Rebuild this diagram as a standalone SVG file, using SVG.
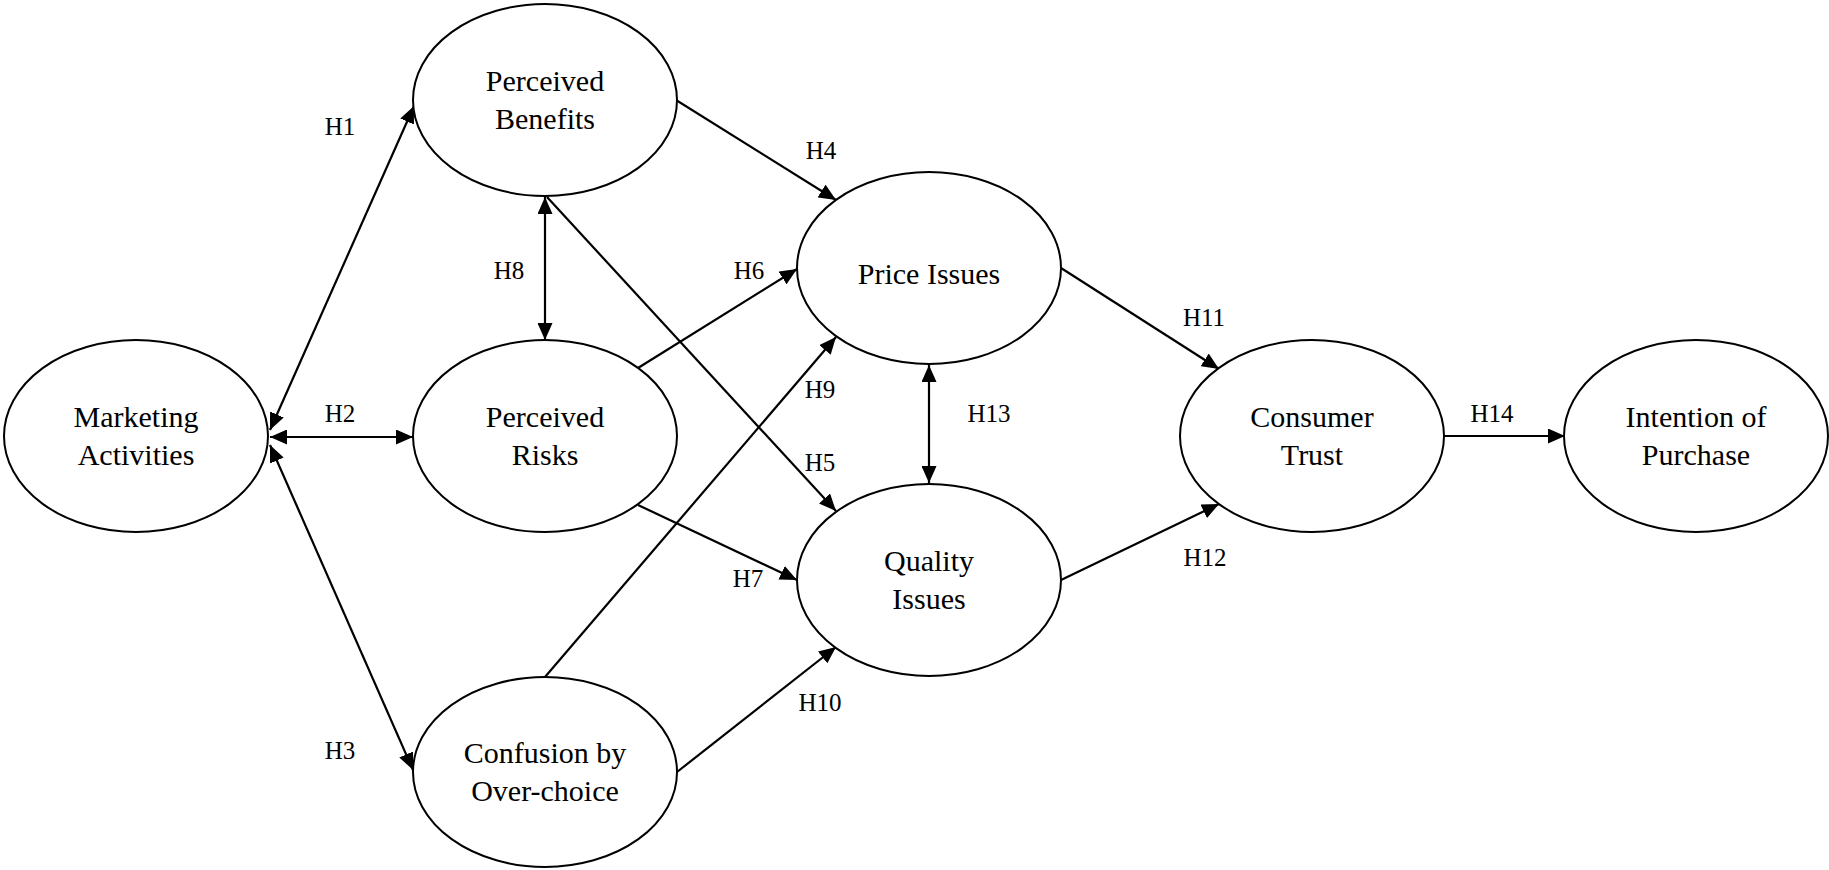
<svg xmlns="http://www.w3.org/2000/svg" width="1829" height="870" viewBox="0 0 1829 870">
<style>
.node ellipse{fill:#fff;stroke:#000;stroke-width:2}
.node text{font-family:'Liberation Serif','DejaVu Serif',serif;font-size:30px;fill:#000;text-anchor:middle}
#connectors line{stroke:#000;stroke-width:2.2;fill:none}
.lbl{font-family:'Liberation Serif','DejaVu Serif',serif;font-size:25px;fill:#000;text-anchor:middle}
</style>
<defs>
<marker id="ah" markerUnits="userSpaceOnUse" markerWidth="17" markerHeight="15" refX="17" refY="7.5" orient="auto-start-reverse" viewBox="0 0 17 15">
<path d="M0,0 L17,7.5 L0,15 z" fill="#000"/>
</marker>
</defs>
<rect width="1829" height="870" fill="#fff"/>
<g id="connectors">
<line x1="270" y1="430" x2="414" y2="106" marker-start="url(#ah)" marker-end="url(#ah)"/>
<line x1="270" y1="437" x2="413" y2="437" marker-start="url(#ah)" marker-end="url(#ah)"/>
<line x1="270" y1="445" x2="413" y2="770" marker-start="url(#ah)" marker-end="url(#ah)"/>
<line x1="545" y1="197" x2="545" y2="340" marker-start="url(#ah)" marker-end="url(#ah)"/>
<line x1="676" y1="100" x2="836" y2="200" marker-end="url(#ah)"/>
<line x1="547" y1="197" x2="836" y2="511" marker-end="url(#ah)"/>
<line x1="638" y1="368" x2="797" y2="269" marker-end="url(#ah)"/>
<line x1="638" y1="505" x2="797" y2="580" marker-end="url(#ah)"/>
<line x1="545" y1="677" x2="836" y2="337" marker-end="url(#ah)"/>
<line x1="677" y1="772" x2="836" y2="647" marker-end="url(#ah)"/>
<line x1="929" y1="365" x2="929" y2="483" marker-start="url(#ah)" marker-end="url(#ah)"/>
<line x1="1061" y1="268" x2="1219" y2="369" marker-end="url(#ah)"/>
<line x1="1061" y1="580" x2="1219" y2="504" marker-end="url(#ah)"/>
<line x1="1444" y1="436" x2="1565" y2="436" marker-end="url(#ah)"/>
</g>
<g id="labels">
<text class="lbl" x="340" y="135">H1</text>
<text class="lbl" x="340" y="422">H2</text>
<text class="lbl" x="340" y="759">H3</text>
<text class="lbl" x="821" y="159">H4</text>
<text class="lbl" x="820" y="471">H5</text>
<text class="lbl" x="749" y="279">H6</text>
<text class="lbl" x="748" y="587">H7</text>
<text class="lbl" x="509" y="279">H8</text>
<text class="lbl" x="820" y="398">H9</text>
<text class="lbl" x="820" y="711">H10</text>
<text class="lbl" x="1204" y="326">H11</text>
<text class="lbl" x="1205" y="566">H12</text>
<text class="lbl" x="989" y="422">H13</text>
<text class="lbl" x="1492" y="422">H14</text>
</g>
<g id="marketing" class="node">
<ellipse cx="136" cy="436" rx="132" ry="96"/>
<text x="136" y="427">Marketing</text>
<text x="136" y="465">Activities</text>
</g>
<g id="benefits" class="node">
<ellipse cx="545" cy="100" rx="132" ry="96"/>
<text x="545" y="91">Perceived</text>
<text x="545" y="129">Benefits</text>
</g>
<g id="risks" class="node">
<ellipse cx="545" cy="436" rx="132" ry="96"/>
<text x="545" y="427">Perceived</text>
<text x="545" y="465">Risks</text>
</g>
<g id="confusion" class="node">
<ellipse cx="545" cy="772" rx="132" ry="95"/>
<text x="545" y="763">Confusion by</text>
<text x="545" y="801">Over-choice</text>
</g>
<g id="price" class="node">
<ellipse cx="929" cy="268" rx="132" ry="96"/>
<text x="929" y="284">Price Issues</text>
</g>
<g id="quality" class="node">
<ellipse cx="929" cy="580" rx="132" ry="96"/>
<text x="929" y="571">Quality</text>
<text x="929" y="609">Issues</text>
</g>
<g id="trust" class="node">
<ellipse cx="1312" cy="436" rx="132" ry="96"/>
<text x="1312" y="427">Consumer</text>
<text x="1312" y="465">Trust</text>
</g>
<g id="intention" class="node">
<ellipse cx="1696" cy="436" rx="132" ry="96"/>
<text x="1696" y="427">Intention of</text>
<text x="1696" y="465">Purchase</text>
</g>
</svg>
